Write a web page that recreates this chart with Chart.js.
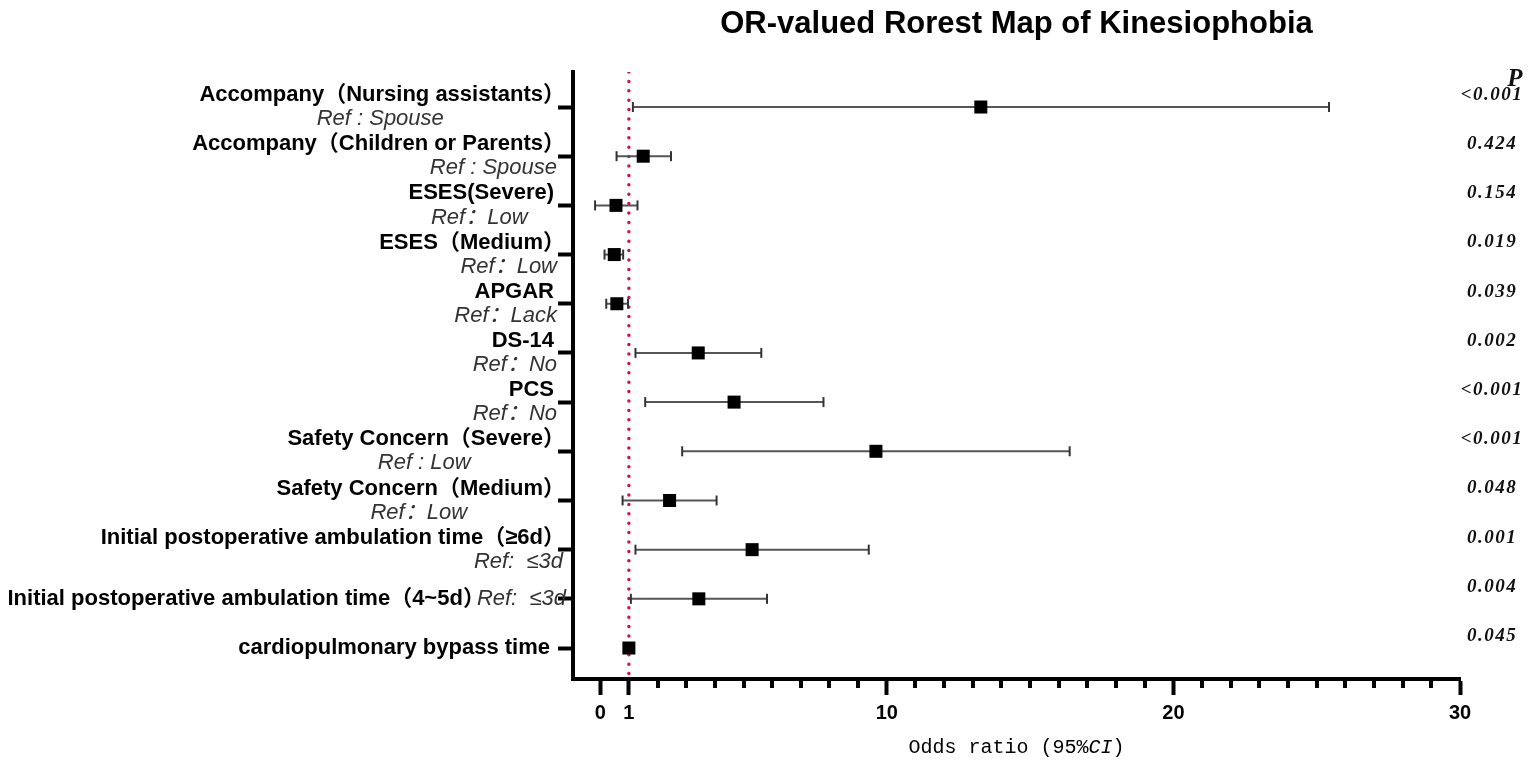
<!DOCTYPE html>
<html>
<head>
<meta charset="utf-8">
<title>OR-valued Rorest Map of Kinesiophobia</title>
<script src="https://cdn.jsdelivr.net/npm/chart.js@4.4.1/dist/chart.umd.min.js"></script>
<style>
    html, body { margin: 0; padding: 0; background: #fff; }
</style>
</head>
<body>
<canvas id="forest" width="1535" height="769"></canvas>
<script>
// rows, top to bottom
const factors = [
    'Accompany（Nursing assistants）',
    'Accompany（Children or Parents）',
    'ESES(Severe)',
    'ESES（Medium）',
    'APGAR',
    'DS-14',
    'PCS',
    'Safety Concern（Severe）',
    'Safety Concern（Medium）',
    'Initial postoperative ambulation time（≥6d）',
    'Initial postoperative ambulation time（4~5d）',
    'cardiopulmonary bypass time'
];
const refs = [
    'Ref : Spouse', 'Ref : Spouse', 'Ref：Low', 'Ref：Low', 'Ref：Lack', 'Ref：No',
    'Ref：No', 'Ref : Low', 'Ref：Low', 'Ref:  ≤3d', 'Ref:  ≤3d', ''
];
const oddsRatio = [13.28, 1.50, 0.55, 0.49, 0.58, 3.42, 4.67, 9.62, 2.42, 5.30, 3.44, 1.00];
const ciLower   = [1.14, 0.57, -0.18, 0.15, 0.21, 1.23, 1.57, 2.86, 0.78, 1.23, 1.07, 0.99];
const ciUpper   = [25.43, 2.47, 1.30, 0.80, 0.97, 5.62, 7.79, 16.38, 4.06, 9.37, 5.82, 1.01];
const pValues = ['<0.001', '0.424', '0.154', '0.019', '0.039', '0.002',
                 '<0.001', '<0.001', '0.048', '0.001', '0.004', '0.045'];
const xTickLabels = [0, 1, 10, 20, 30];
const xTickValues = [0, 1, 2, 3, 4, 5, 6, 7, 8, 9, 10, 11, 12, 13, 14, 15, 16, 17, 18, 19, 20,
                     21, 22, 23, 24, 25, 26, 27, 28, 29, 30];
const nullValue = 1;

(function () {
    const X_MIN = -0.95, X_MAX = 30;
    const Y_MIN = -0.712, Y_MAX = 11.63;
    const rows = factors.map((_, i) => i);

    // how the Ref line sits under its factor label
    const refAlign = ['center', 'right', 'center', 'right', 'right', 'right',
                      'right', 'center', 'center', 'right', 'inline', 'none'];

    const BOLD = "bold 22px 'Liberation Sans', 'Noto Sans CJK SC', sans-serif";
    const ITAL = "italic 22px 'Liberation Sans', 'Noto Sans CJK SC', sans-serif";

    const ciSets = rows.map(i => ({
        type: 'line',
        data: [{ x: ciLower[i], y: i }, { x: ciUpper[i], y: i }],
        borderColor: '#555',
        borderWidth: 2,
        pointStyle: 'line',
        pointRotation: 90,
        pointRadius: 5,
        pointBorderColor: '#333',
        pointBorderWidth: 2,
        order: 1
    }));

    const textPlugin = {
        id: 'forestText',
        afterDraw(chart) {
            const ctx = chart.ctx;
            const xs = chart.scales.x, ys = chart.scales.y;
            const area = chart.chartArea;
            ctx.save();

            // minor ticks on the x axis
            ctx.strokeStyle = '#000';
            ctx.lineWidth = 4;
            xTickValues.filter(v => !xTickLabels.includes(v)).forEach(v => {
                const px = Math.round(xs.getPixelForValue(v));
                ctx.beginPath();
                ctx.moveTo(px, area.bottom);
                ctx.lineTo(px, area.bottom + 9);
                ctx.stroke();
            });

            // title
            ctx.fillStyle = '#000';
            ctx.textAlign = 'center';
            ctx.textBaseline = 'middle';
            ctx.font = "bold 31px 'Liberation Sans', sans-serif";
            ctx.fillText('OR-valued Rorest Map of Kinesiophobia', (area.left + area.right) / 2, 24);

            // factor labels
            const rightOf = s => area.left - 19 + (s.endsWith('）') ? 11 : 0);
            rows.forEach(i => {
                const py = ys.getPixelForValue(i);
                const align = refAlign[i];
                ctx.textBaseline = 'middle';
                if (align === 'inline') {
                    ctx.font = ITAL;
                    ctx.fillStyle = '#333';
                    ctx.textAlign = 'right';
                    const end = area.left - 7;
                    ctx.fillText(refs[i], end, py);
                    const w = ctx.measureText(refs[i]).width;
                    ctx.font = BOLD;
                    ctx.fillStyle = '#000';
                    ctx.fillText(factors[i], end - w + 8, py);
                    return;
                }
                if (align === 'none') {
                    ctx.font = BOLD;
                    ctx.fillStyle = '#000';
                    ctx.textAlign = 'right';
                    ctx.fillText(factors[i], area.left - 23, py);
                    return;
                }
                const lr = rightOf(factors[i]);
                ctx.font = BOLD;
                ctx.fillStyle = '#000';
                ctx.textAlign = 'right';
                ctx.fillText(factors[i], lr, py - 12);
                const bw = ctx.measureText(factors[i]).width;
                ctx.font = ITAL;
                ctx.fillStyle = '#333';
                if (align === 'center') {
                    ctx.textAlign = 'center';
                    ctx.fillText(refs[i], lr - bw / 2 - 2, py + 12);
                } else {
                    ctx.textAlign = 'right';
                    ctx.fillText(refs[i], i === 9 ? area.left - 10 : area.left - 16, py + 12);
                }
            });

            // P column
            ctx.fillStyle = '#111';
            ctx.textAlign = 'center';
            ctx.font = "bold italic 25px 'Liberation Serif', serif";
            ctx.fillText('P', 1515, 80);
            ctx.font = "bold italic 19px 'Liberation Serif', serif";
            ctx.letterSpacing = '1.5px';
            rows.forEach(i => {
                ctx.fillText(pValues[i], 1492, ys.getPixelForValue(i) - 12);
            });
            ctx.letterSpacing = '0px';

            // x axis title, CI in italics
            const parts = [
                ['Odds ratio (95%', "20px 'Liberation Mono', monospace"],
                ['CI', "italic 20px 'Liberation Mono', monospace"],
                [')', "20px 'Liberation Mono', monospace"]
            ];
            let total = 0;
            parts.forEach(p => { ctx.font = p[1]; total += ctx.measureText(p[0]).width; });
            let tx = (area.left + area.right) / 2 - total / 2;
            ctx.textAlign = 'left';
            ctx.fillStyle = '#000';
            parts.forEach(p => {
                ctx.font = p[1];
                ctx.fillText(p[0], tx, 748);
                tx += ctx.measureText(p[0]).width;
            });

            ctx.restore();
        }
    };

    new Chart(document.getElementById('forest').getContext('2d'), {
        data: {
            datasets: [
                {
                    type: 'scatter',
                    data: rows.map(i => ({ x: oddsRatio[i], y: i })),
                    pointStyle: 'rect',
                    pointRadius: 9.2,
                    pointBackgroundColor: '#000',
                    pointBorderColor: '#000',
                    pointBorderWidth: 0,
                    order: 0
                },
                ...ciSets,
                {
                    type: 'line',
                    data: [{ x: nullValue, y: Y_MIN }, { x: nullValue, y: Y_MAX }],
                    borderColor: '#cc1155',
                    borderWidth: 3.5,
                    borderDash: [0, 9.4],
                    borderCapStyle: 'round',
                    pointRadius: 0,
                    order: 2
                }
            ]
        },
        options: {
            responsive: false,
            animation: false,
            events: [],
            layout: { padding: { top: 72, right: 75, bottom: 0, left: 0 } },
            plugins: {
                legend: { display: false },
                tooltip: { enabled: false }
            },
            scales: {
                x: {
                    type: 'linear',
                    min: X_MIN,
                    max: X_MAX,
                    afterBuildTicks: axis => { axis.ticks = xTickValues.map(v => ({ value: v })); },
                    afterFit: s => { s.height = 90; },
                    ticks: {
                        autoSkip: false,
                        maxRotation: 0,
                        padding: 6,
                        color: '#000',
                        font: { family: "'Liberation Sans Narrow', 'Liberation Sans', sans-serif", size: 20, weight: 'bold' },
                        callback: v => xTickLabels.includes(v) ? String(v) : ''
                    },
                    grid: {
                        drawOnChartArea: false,
                        drawTicks: true,
                        tickLength: 16,
                        tickWidth: 4,
                        tickColor: c => xTickLabels.includes(c.tick && c.tick.value) ? '#000' : 'rgba(0,0,0,0)'
                    },
                    border: { display: true, color: '#000', width: 4 }
                },
                y: {
                    type: 'linear',
                    reverse: true,
                    min: Y_MIN,
                    max: Y_MAX,
                    afterBuildTicks: axis => { axis.ticks = rows.map(v => ({ value: v })); },
                    afterFit: s => { s.width = 573; },
                    ticks: { display: false },
                    grid: {
                        drawOnChartArea: false,
                        drawTicks: true,
                        tickLength: 15,
                        tickWidth: 4,
                        tickColor: '#000'
                    },
                    border: { display: true, color: '#000', width: 4 }
                }
            }
        },
        plugins: [textPlugin]
    });
})();
</script>
</body>
</html>
